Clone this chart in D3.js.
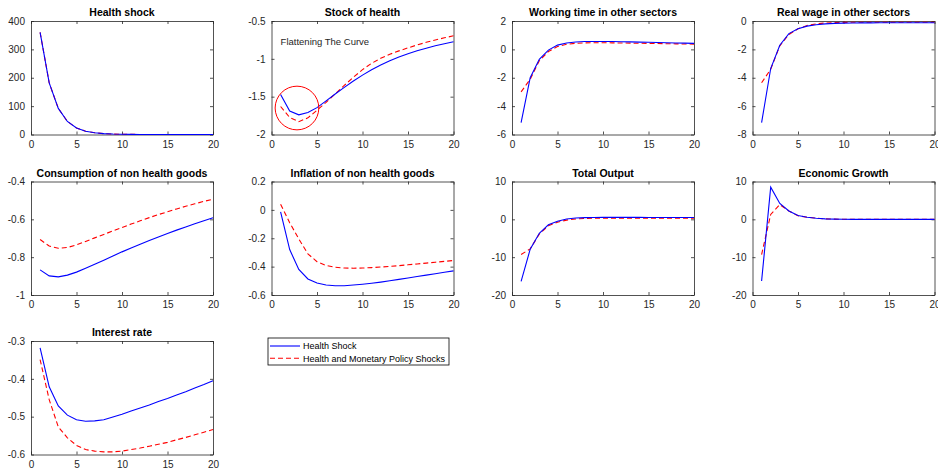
<!DOCTYPE html>
<html>
<head>
<meta charset="utf-8">
<title>Impulse responses</title>
<script src="https://cdn.jsdelivr.net/npm/d3@7"></script>
<style>
  body { margin: 0; background: #fff; }
  text { font-family: "Liberation Sans", Arial, Helvetica, sans-serif; }
</style>
</head>
<body>
<script>
// horizon
var periods = d3.range(1, 21);

// panel titles
var titles = ["Health shock", "Stock of health", "Working time in other sectors", "Real wage in other sectors",
              "Consumption of non health goods", "Inflation of non health goods", "Total Output", "Economic Growth",
              "Interest rate"];

// y tick labels per panel
var yTicks = [
  [0, 100, 200, 300, 400],
  [-2, -1.5, -1, -0.5],
  [-6, -4, -2, 0, 2],
  [-8, -6, -4, -2, 0],
  [-1, -0.8, -0.6, -0.4],
  [-0.6, -0.4, -0.2, 0, 0.2],
  [-20, -10, 0, 10],
  [-20, -10, 0, 10],
  [-0.6, -0.5, -0.4, -0.3]
];
var xTicks = [0, 5, 10, 15, 20];

// Health shock only (blue, solid)
var healthShock = [
  [360, 182, 92, 46, 23, 11.7, 5.9, 3.0, 1.5, 0.76, 0.38, 0.19, 0.1, 0.05, 0.02, 0.01, 0, 0, 0, 0],
  [-1.47, -1.69, -1.74, -1.71, -1.645, -1.555, -1.465, -1.377, -1.293, -1.215, -1.144, -1.081, -1.026, -0.977, -0.933, -0.894, -0.859, -0.828, -0.800, -0.775],
  [-5.17, -2.0, -0.7, -0.05, 0.3, 0.45, 0.52, 0.55, 0.56, 0.56, 0.55, 0.54, 0.53, 0.51, 0.50, 0.48, 0.47, 0.45, 0.44, 0.42],
  [-7.16, -3.35, -1.71, -0.89, -0.54, -0.36, -0.26, -0.2, -0.17, -0.15, -0.14, -0.13, -0.13, -0.12, -0.12, -0.12, -0.12, -0.12, -0.12, -0.12],
  [-0.867, -0.899, -0.904, -0.895, -0.879, -0.859, -0.838, -0.816, -0.794, -0.772, -0.752, -0.732, -0.712, -0.693, -0.675, -0.657, -0.640, -0.623, -0.607, -0.592],
  [-0.014, -0.28, -0.42, -0.487, -0.516, -0.53, -0.535, -0.535, -0.53, -0.524, -0.517, -0.509, -0.5, -0.49, -0.48, -0.47, -0.46, -0.45, -0.44, -0.43],
  [-16.4, -7.9, -3.7, -1.45, -0.5, 0.1, 0.35, 0.45, 0.5, 0.52, 0.52, 0.52, 0.51, 0.51, 0.5, 0.5, 0.5, 0.49, 0.49, 0.49],
  [-16.3, 8.5, 4.2, 2.2, 1.0, 0.55, 0.27, 0.12, 0.05, 0.02, 0, 0, -0.01, 0, -0.01, 0, 0, -0.01, 0, 0],
  [-0.318, -0.421, -0.4715, -0.496, -0.508, -0.512, -0.511, -0.508, -0.501, -0.4935, -0.485, -0.477, -0.469, -0.46, -0.452, -0.443, -0.434, -0.424, -0.415, -0.405]
];

// Health and monetary policy shocks (red, dashed)
var bothShocks = [
  [360, 182, 92, 46, 23, 11.7, 5.9, 3.0, 1.5, 0.76, 0.38, 0.19, 0.1, 0.05, 0.02, 0.01, 0, 0, 0, 0],
  [-1.63, -1.775, -1.83, -1.78, -1.68, -1.575, -1.463, -1.351, -1.243, -1.143, -1.059, -0.993, -0.940, -0.895, -0.855, -0.816, -0.782, -0.751, -0.722, -0.696],
  [-3.0, -2.1, -0.8, -0.15, 0.2, 0.36, 0.43, 0.46, 0.47, 0.47, 0.46, 0.45, 0.44, 0.43, 0.42, 0.41, 0.40, 0.39, 0.38, 0.37],
  [-4.35, -3.4, -1.75, -0.95, -0.55, -0.32, -0.2, -0.14, -0.11, -0.1, -0.09, -0.09, -0.09, -0.09, -0.09, -0.09, -0.09, -0.09, -0.09, -0.09],
  [-0.707, -0.741, -0.753, -0.749, -0.735, -0.717, -0.698, -0.680, -0.661, -0.643, -0.625, -0.608, -0.591, -0.575, -0.560, -0.545, -0.531, -0.518, -0.505, -0.494],
  [0.039, -0.09, -0.205, -0.31, -0.365, -0.392, -0.404, -0.41, -0.411, -0.41, -0.407, -0.403, -0.398, -0.393, -0.387, -0.381, -0.375, -0.369, -0.363, -0.357],
  [-9.3, -7.8, -3.9, -1.7, -0.75, -0.2, 0.1, 0.22, 0.28, 0.3, 0.31, 0.31, 0.31, 0.31, 0.31, 0.31, 0.3, 0.3, 0.3, 0.3],
  [-9.3, 1.3, 3.9, 2.2, 0.95, 0.55, 0.3, 0.12, 0.06, 0.02, 0.01, 0, 0, 0, 0, 0, -0.01, 0, 0, 0],
  [-0.349, -0.455, -0.527, -0.556, -0.576, -0.587, -0.591, -0.593, -0.593, -0.591, -0.587, -0.583, -0.578, -0.573, -0.568, -0.561, -0.555, -0.548, -0.541, -0.534]
];

var seriesNames = ["Health Shock", "Health and Monetary Policy Shocks"];

// annotation on "Stock of health"
var noteText = "Flattening The Curve";
var notePos = [1.0, -0.77];
var circleCenter = [2.8, -1.65];
var circleRadius = 2.4;   // in x units

var W = 938, H = 472;
var axColor = "#262626";
var pw = 182, ph = 113.5;
var lefts = [31, 271.5, 512, 752.5];
var tops = [21, 181.5, 341];

var svg = d3.select("body").append("svg").attr("width", W).attr("height", H);

var fmt = function(d) { return String(+d.toFixed(2)); };

titles.forEach(function(title, i) {
  var col = i % 4, row = Math.floor(i / 4);
  var x0 = lefts[col], y0 = tops[row];
  var yt = yTicks[i];

  var x = d3.scaleLinear().domain([0, 20]).range([0, pw]);
  var y = d3.scaleLinear().domain([yt[0], yt[yt.length - 1]]).range([ph, 0]);

  var g = svg.append("g").attr("transform", "translate(" + x0 + "," + y0 + ")");

  // axes, MATLAB style: ticks inside, on all four sides
  var bottom = g.append("g").attr("transform", "translate(0," + ph + ")")
    .call(d3.axisBottom(x).tickValues(xTicks).tickFormat(fmt).tickSizeInner(-3).tickSizeOuter(0).tickPadding(6));
  var top = g.append("g").call(d3.axisTop(x).tickValues(xTicks).tickFormat("").tickSizeInner(-3).tickSizeOuter(0));
  var left = g.append("g")
    .call(d3.axisLeft(y).tickValues(yt).tickFormat(fmt).tickSizeInner(-3).tickSizeOuter(0).tickPadding(6));
  var right = g.append("g").attr("transform", "translate(" + pw + ",0)")
    .call(d3.axisRight(y).tickValues(yt).tickFormat("").tickSizeInner(-3).tickSizeOuter(0));

  [bottom, top, left, right].forEach(function(a) {
    a.select(".domain").attr("stroke", axColor).attr("stroke-width", 0.8);
    a.selectAll(".tick line").attr("stroke", axColor).attr("stroke-width", 0.8);
    a.selectAll("text").attr("fill", axColor).style("font-size", "10px");
  });

  var line = d3.line().x(function(d, k) { return x(periods[k]); }).y(function(d) { return y(d); });

  g.append("path").datum(bothShocks[i])
    .attr("d", line).attr("fill", "none").attr("stroke", "#ff0000")
    .attr("stroke-width", 1.1).attr("stroke-dasharray", "5,3");
  g.append("path").datum(healthShock[i])
    .attr("d", line).attr("fill", "none").attr("stroke", "#0000ff").attr("stroke-width", 1.1);

  g.append("text").attr("x", pw / 2).attr("y", -5).attr("text-anchor", "middle")
    .style("font-size", "10.5px").style("font-weight", "bold").attr("fill", "#000").text(title);

  if (i === 1) {
    g.append("text").attr("x", x(notePos[0])).attr("y", y(notePos[1]) + 3.5)
      .style("font-size", "9.5px").attr("fill", axColor).text(noteText);
    var r = x(circleRadius) - x(0);
    g.append("ellipse").attr("cx", x(circleCenter[0])).attr("cy", y(circleCenter[1]))
      .attr("rx", r).attr("ry", r).attr("fill", "none").attr("stroke", "#ff0000").attr("stroke-width", 1);
  }
});

// legend
var lg = svg.append("g").attr("transform", "translate(268,338)");
lg.append("rect").attr("width", 181).attr("height", 27).attr("fill", "#fff")
  .attr("stroke", "#000").attr("stroke-width", 0.8);
seriesNames.forEach(function(name, k) {
  var yy = 8 + k * 12.3;
  lg.append("line").attr("x1", 2).attr("x2", 32).attr("y1", yy).attr("y2", yy)
    .attr("stroke", k === 0 ? "#0000ff" : "#ff0000").attr("stroke-width", 1.1)
    .attr("stroke-dasharray", k === 0 ? null : "5,3");
  lg.append("text").attr("x", 35).attr("y", yy + 3.2).style("font-size", "9px").attr("fill", "#000").text(name);
});
</script>
</body>
</html>
